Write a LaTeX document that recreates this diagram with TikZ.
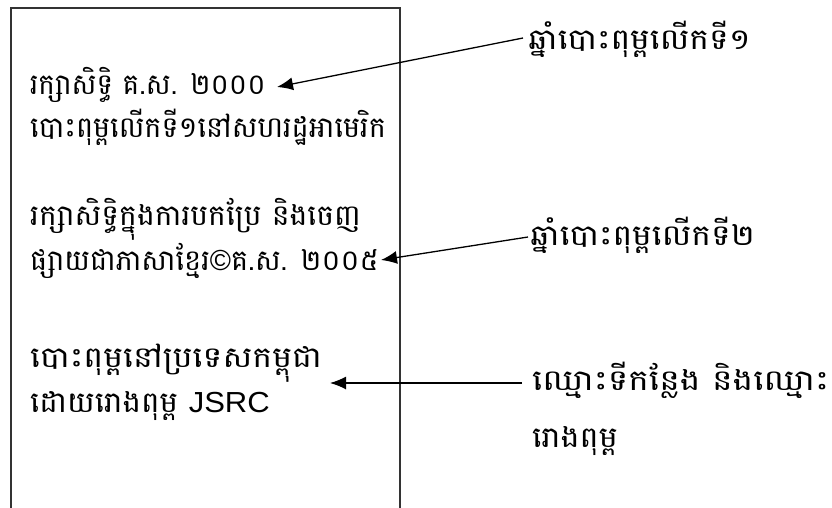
\documentclass[tikz,border=0pt]{standalone}
\usepackage{fontspec}
\newfontfamily\km[Script=Khmer]{Battambang}
\newfontfamily\lat{Liberation Sans}
\usetikzlibrary{arrows.meta}
\newcommand{\kx}[2]{\scalebox{#1}[1]{#2}}
\begin{document}
\begin{tikzpicture}[x=1pt,y=-1pt,
  txt/.style={anchor=base west, inner sep=0pt, font=\km\fontsize{29}{34}\selectfont},
  arr/.style={-{Latex[length=16pt,width=13pt]}, line width=1.3pt},
  frame/.style={line width=1.4pt, draw=black!80}]
\useasboundingbox (0,0) rectangle (832,508);
\coordinate (bl) at (11,512);
\coordinate (tl) at (11,8);
\coordinate (tr) at (400,8);
\coordinate (br) at (400,512);
\draw[frame] (bl) -- (tl) -- (tr) -- (br);
\node[txt] (l1) at (30,95) {\kx{0.96}{រក្សាសិទ្ធិ គ.ស. ២០០០}};
\node[txt] (l2) at (30,137) {\kx{0.99}{បោះពុម្ពលើកទី១នៅសហរដ្ឋអាមេរិក}};
\node[txt] (l3) at (30,225) {\kx{1.03}{រក្សាសិទ្ធិក្នុងការបកប្រែ និងចេញ}};
\node[txt] (l4) at (30,270) {\kx{0.99}{ផ្សាយជាភាសាខ្មែរ{\lat ©}គ.ស. ២០០៥}};
\node[txt] (l5) at (30,367) {\kx{1.15}{បោះពុម្ពនៅប្រទេសកម្ពុជា}};
\node[txt] (l6) at (30,412) {\kx{1.07}{ដោយរោងពុម្ព {\lat JSRC}}};
\node[txt] (r1) at (528,50) {\kx{1.14}{ឆ្នាំបោះពុម្ពលើកទី១}};
\node[txt] (r2) at (530,245) {\kx{1.14}{ឆ្នាំបោះពុម្ពលើកទី២}};
\node[txt] (r3) at (532,390) {\kx{1.19}{ឈ្មោះទីកន្លែង និងឈ្មោះ}};
\node[txt] (r4) at (532,447) {\kx{1.1}{រោងពុម្ព}};
\coordinate (a1s) at (523,38);
\coordinate (a1e) at (277,87);
\coordinate (a2s) at (528,237);
\coordinate (a2e) at (381,260);
\coordinate (a3s) at (522,383);
\coordinate (a3e) at (330,383);
\draw[arr] (a1s) -- (a1e);
\draw[arr] (a2s) -- (a2e);
\draw[arr] (a3s) -- (a3e);
\end{tikzpicture}
\end{document}
